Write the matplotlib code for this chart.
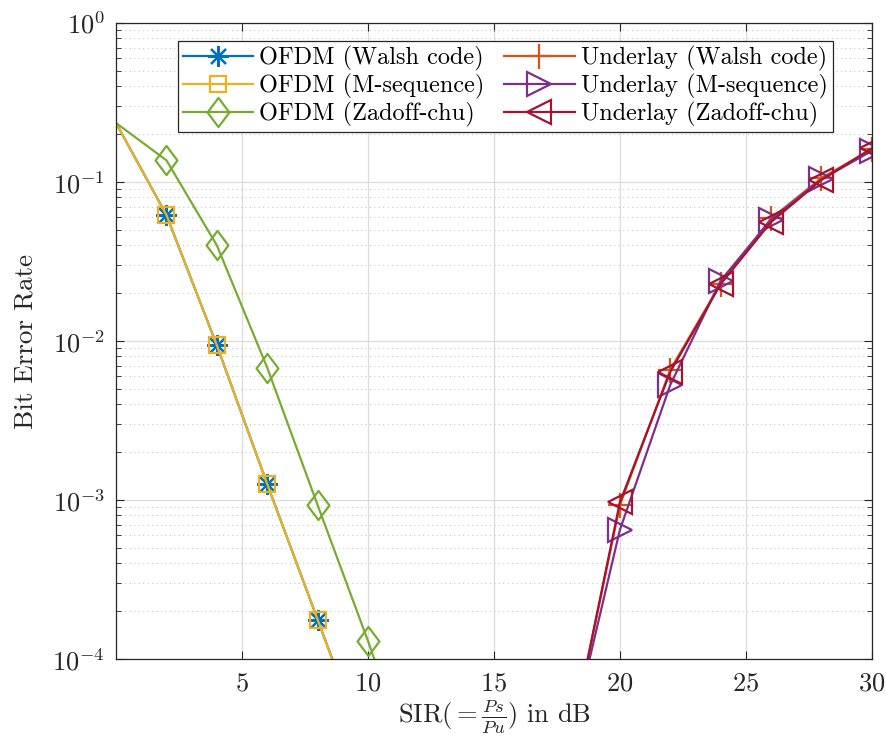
import numpy as np
import matplotlib
matplotlib.use("Agg")
import matplotlib.pyplot as plt
from matplotlib.path import Path

plt.rcParams['font.family'] = 'cmr10'
plt.rcParams['mathtext.fontset'] = 'cm'
plt.rcParams['axes.formatter.use_mathtext'] = True

# SIR sweep (dB)
sir_ofdm = [0, 2, 4, 6, 8, 10]
sir_zc = [0, 2, 4, 6, 8, 10, 12]
sir_under = [18, 20, 22, 24, 26, 28, 30]

# bit error rates
ber_ofdm_walsh = [0.235, 0.062, 0.0094, 0.00126, 0.000177, 2.5e-5]
ber_ofdm_mseq = [0.235, 0.062, 0.0094, 0.00126, 0.000177, 2.5e-5]
ber_ofdm_zc = [0.235, 0.137, 0.040, 0.0068, 0.00093, 0.00013, 1.6e-5]
ber_under_walsh = [2.8e-5, 0.00093, 0.0066, 0.023, 0.059, 0.106, 0.161]
ber_under_mseq = [2.9e-5, 0.00065, 0.0053, 0.024, 0.058, 0.104, 0.157]
ber_under_zc = [2.8e-5, 0.00097, 0.0064, 0.0228, 0.056, 0.103, 0.163]

labels = ['OFDM (Walsh code)', 'OFDM (M-sequence)', 'OFDM (Zadoff-chu)',
          'Underlay (Walsh code)', 'Underlay (M-sequence)', 'Underlay (Zadoff-chu)']

# matlab-style diamond, a bit taller than wide
diamond = Path([(0, 1), (0.75, 0), (0, -1), (-0.75, 0), (0, 1)], closed=True)

fig = plt.figure(figsize=(8.86, 7.43), dpi=100)
ax = fig.add_axes([0.131, 0.113, 0.853, 0.856])

lw = 1.6
skip0 = slice(1, None)
ax.semilogy(sir_ofdm, ber_ofdm_walsh, '-', marker=(8, 2, 0), color='#0072BD', lw=lw, ms=15,
            mew=lw, markevery=skip0, label=labels[0])
ax.semilogy(sir_ofdm, ber_ofdm_mseq, '-s', color='#EDB120', lw=lw, ms=11, mew=lw, mfc='none',
            markevery=skip0, label=labels[1])
ax.semilogy(sir_zc, ber_ofdm_zc, '-', marker=diamond, color='#77AC30', lw=lw, ms=21, mew=lw,
            mfc='none', markevery=skip0, label=labels[2])
ax.semilogy(sir_under, ber_under_walsh, '-+', color='#D95319', lw=lw, ms=18, mew=lw, label=labels[3])
ax.semilogy(sir_under, ber_under_mseq, '->', color='#7E2F8E', lw=lw, ms=17, mew=lw, mfc='none',
            label=labels[4])
ax.semilogy(sir_under, ber_under_zc, '-<', color='#A2142F', lw=lw, ms=17, mew=lw, mfc='none',
            label=labels[5])

ax.set_xlim(0, 30)
ax.set_ylim(1e-4, 1)
ax.set_xticks([5, 10, 15, 20, 25, 30])
ax.set_xticks([], minor=True)

ax.grid(True, which='major', color='#dcdcdc', lw=0.9)
ax.grid(True, which='minor', axis='y', color='#c8c8c8', lw=0.8, ls=(0, (1, 3)))
ax.set_axisbelow(True)

for s in ax.spines.values():
    s.set_color('#262626')
    s.set_linewidth(0.9)
ax.tick_params(which='both', direction='in', top=True, right=True, colors='#262626',
               labelsize=19, labelcolor='#262626')
ax.tick_params(which='major', length=6)
ax.tick_params(which='minor', length=3.5)
ax.tick_params(axis='x', pad=9)
ax.tick_params(axis='y', pad=8)

ax.set_xlabel(r'SIR$(=\frac{Ps}{Pu})$ in dB', fontsize=19, color='#262626', labelpad=1)
ax.set_ylabel('Bit Error Rate', fontsize=19.5, color='#262626', labelpad=11)

leg = ax.legend(ncol=2, loc='upper center', bbox_to_anchor=(0.515, 0.972), fontsize=17.5,
                frameon=True, fancybox=False, edgecolor='#262626', framealpha=1,
                handlelength=2.9, handletextpad=0.25, columnspacing=0.8,
                borderpad=0.2, labelspacing=0.12, borderaxespad=0)
leg.get_frame().set_linewidth(0.9)

fig.savefig('out.png', dpi=100)
